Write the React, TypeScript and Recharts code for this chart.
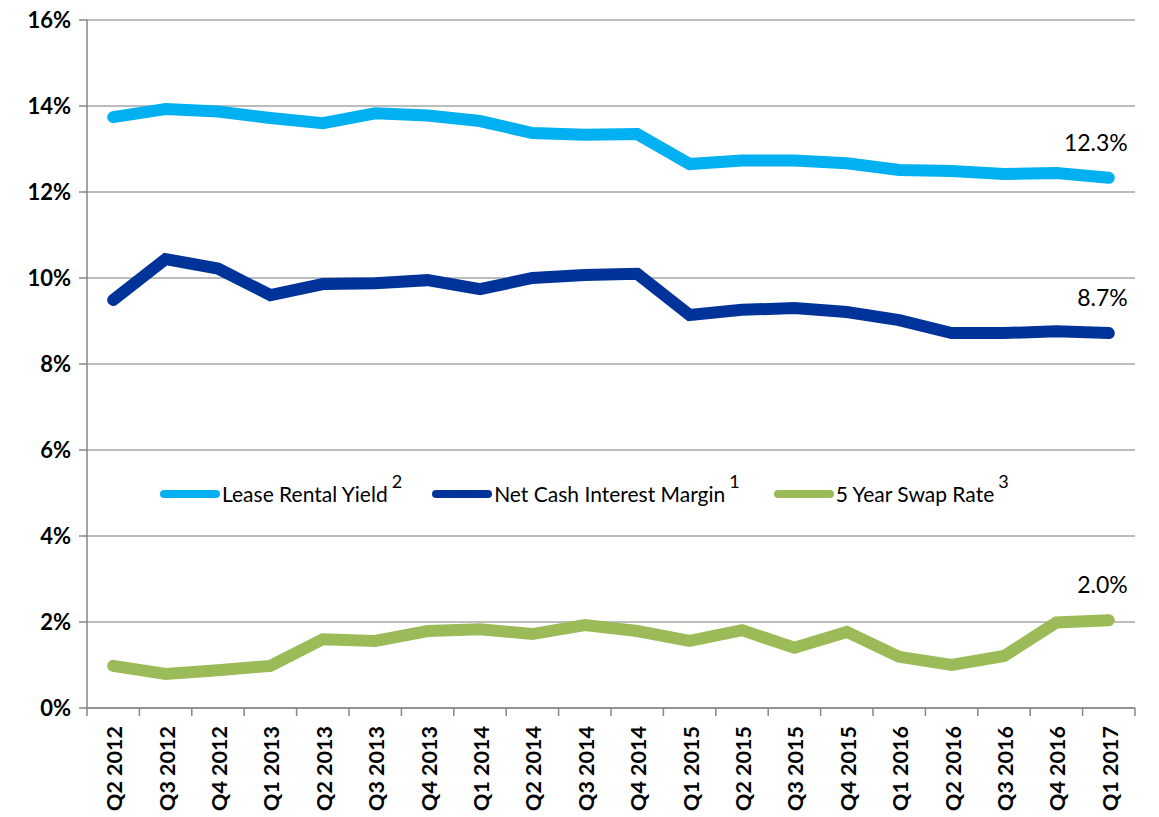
import { LineChart, Line, XAxis, YAxis, CartesianGrid, LabelList } from 'recharts'

const quarters = [
  'Q2 2012', 'Q3 2012', 'Q4 2012', 'Q1 2013', 'Q2 2013', 'Q3 2013', 'Q4 2013', 'Q1 2014', 'Q2 2014', 'Q3 2014',
  'Q4 2014', 'Q1 2015', 'Q2 2015', 'Q3 2015', 'Q4 2015', 'Q1 2016', 'Q2 2016', 'Q3 2016', 'Q4 2016', 'Q1 2017',
]
const leaseYield = [13.74, 13.93, 13.87, 13.72, 13.6, 13.83, 13.78, 13.65, 13.37, 13.33, 13.35, 12.65, 12.73, 12.73, 12.67, 12.51, 12.49, 12.42, 12.44, 12.33]
const netMargin = [9.49, 10.44, 10.22, 9.6, 9.86, 9.88, 9.95, 9.74, 10.0, 10.07, 10.1, 9.14, 9.26, 9.3, 9.21, 9.02, 8.72, 8.72, 8.76, 8.72]
const swapRate = [0.98, 0.79, 0.88, 0.98, 1.6, 1.56, 1.79, 1.83, 1.72, 1.93, 1.79, 1.56, 1.81, 1.4, 1.77, 1.19, 1.0, 1.21, 1.99, 2.04]
const yTicks = [0, 2, 4, 6, 8, 10, 12, 14, 16]

const series = [
  { key: 'lease', name: 'Lease Rental Yield', sup: '2', color: '#00b0f0' },
  { key: 'net', name: 'Net Cash Interest Margin', sup: '1', color: '#003399' },
  { key: 'swap', name: '5 Year Swap Rate', sup: '3', color: '#9bbb59' },
]

const data = quarters.map((q, i) => ({ q, lease: leaseYield[i], net: netMargin[i], swap: swapRate[i] }))

const font = 'Lato, "Open Sans", sans-serif'
const step = 52.4
const last = quarters.length - 1

const XTick = (props: any) => {
  const { x, y, payload, index } = props
  return (
    <g>
      <line x1={x - step / 2} x2={x - step / 2} y1={y} y2={y + 8} stroke="#868686" strokeWidth={1.5} />
      {index === last && <line x1={x + step / 2} x2={x + step / 2} y1={y} y2={y + 8} stroke="#868686" strokeWidth={1.5} />}
      <text
        transform={`translate(${x + 1},${y + 18}) rotate(-90)`}
        textAnchor="end"
        dominantBaseline="central"
        fontFamily={font}
        fontWeight={700}
        fontSize={21.5}
        fill="#000"
      >
        {payload.value}
      </text>
    </g>
  )
}

const endLabel = (props: any) => {
  const { x, y, index, value } = props
  if (index !== last) return null
  return (
    <text x={x + 19} y={y - 27} textAnchor="end" fontFamily={font} fontSize={23} fill="#000">
      {Number(value).toFixed(1)}%
    </text>
  )
}

const LegendBox = () => (
  <div
    style={{
      position: 'absolute',
      left: 160,
      top: 481,
      display: 'flex',
      alignItems: 'center',
      fontFamily: font,
      fontSize: 21,
      color: '#000',
      whiteSpace: 'nowrap',
    }}
  >
    {series.map((s, i) => (
      <div key={s.key} style={{ display: 'flex', alignItems: 'center', marginRight: i === 0 ? 30 : 34 }}>
        <span style={{ display: 'inline-block', width: 60, height: 8, borderRadius: 4, background: s.color }} />
        <span style={{ marginLeft: 2 }}>{s.name}</span>
        <span style={{ fontSize: 18, position: 'relative', top: -13, marginLeft: 4 }}>{s.sup}</span>
      </div>
    ))}
  </div>
)

export default function App() {
  return (
    <div style={{ position: 'absolute', left: 0, top: 0, width: 1159, height: 817, background: '#fff' }}>
      <LineChart width={1159} height={817} data={data} margin={{ top: 20, right: 24, left: 0, bottom: 0 }}>
        <CartesianGrid vertical={false} stroke="#a6a6a6" strokeWidth={1.5} />
        <XAxis
          dataKey="q"
          interval={0}
          height={109}
          padding={{ left: step / 2, right: step / 2 }}
          tickSize={0}
          tickMargin={0}
          tick={<XTick />}
          axisLine={{ stroke: '#868686', strokeWidth: 1.5 }}
        />
        <YAxis
          width={87}
          domain={[0, 16]}
          ticks={yTicks}
          tickFormatter={(v) => `${v}%`}
          tickSize={8}
          tickMargin={8}
          tickLine={{ stroke: '#868686', strokeWidth: 1.5 }}
          axisLine={{ stroke: '#868686', strokeWidth: 1.5 }}
          tick={{ fontFamily: font, fontWeight: 700, fontSize: 22, fill: '#000' }}
        />
        {series.map((s) => (
          <Line
            key={s.key}
            type="linear"
            dataKey={s.key}
            name={s.name}
            stroke={s.color}
            strokeWidth={12}
            strokeLinecap="round"
            dot={false}
            isAnimationActive={false}
          >
            <LabelList dataKey={s.key} content={endLabel} />
          </Line>
        ))}
      </LineChart>
      <LegendBox />
    </div>
  )
}
